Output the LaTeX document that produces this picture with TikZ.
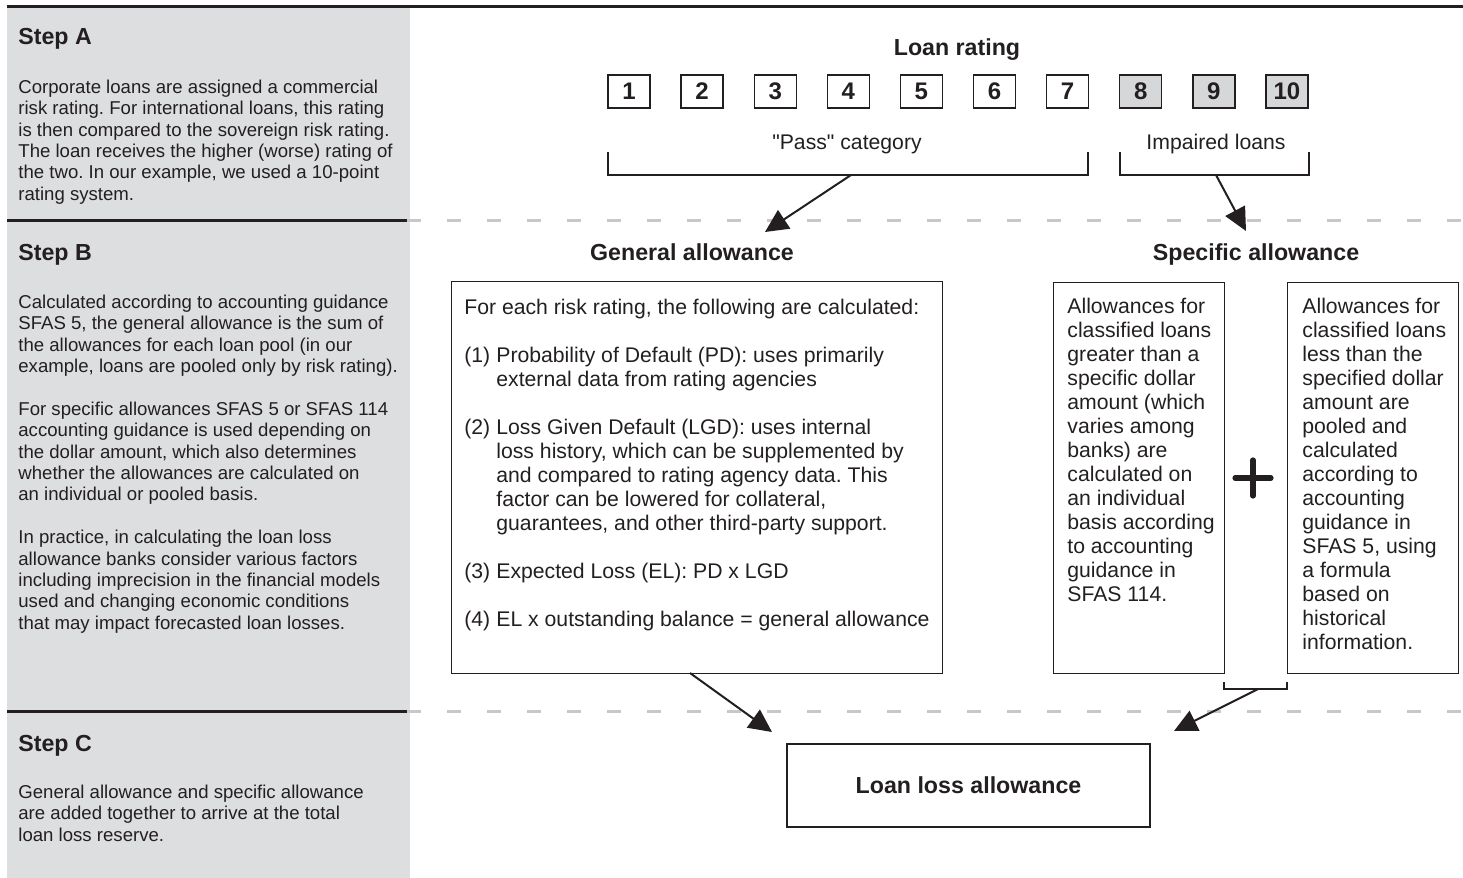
\documentclass[tikz,border=0pt]{standalone}
\usepackage{fontspec}
\setmainfont{Liberation Sans}
\newfontfamily\straightfont{Liberation Sans}[Ligatures=TeXOff]
\usetikzlibrary{arrows.meta}
\frenchspacing
\definecolor{panelgrey}{RGB}{221,222,224}
\definecolor{boxgrey}{RGB}{214,215,217}
\definecolor{dashgrey}{RGB}{200,200,200}
\definecolor{ink}{RGB}{35,31,32}
\tikzset{
  body/.style={font=\fontsize{9.3}{10.7}\selectfont, text=ink, inner sep=0pt, align=left, anchor=north west},
  boxtext/.style={font=\fontsize{10.6}{12}\selectfont, text=ink, inner sep=0pt, align=left, anchor=north west},
  groupname/.style={font=\fontsize{10.6}{12}\selectfont, text=ink, inner sep=0pt, anchor=base},
  heading/.style={font=\bfseries\fontsize{11.6}{13}\selectfont, text=ink, inner sep=0pt},
  ratebox/.style={draw=ink, line width=0.7pt, minimum width=21pt, minimum height=16.5pt, inner sep=0pt, font=\bfseries\fontsize{12}{14}\selectfont, text=ink},
  impaired/.style={ratebox, fill=boxgrey},
  textbox/.style={draw=ink, line width=0.7pt, inner sep=0pt},
  rule/.style={ink, line width=1.5pt},
  dashrule/.style={dashgrey, line width=1.5pt, dash pattern=on 7pt off 13pt},
  arrow/.style={ink, line width=1pt, -{Triangle[length=11.5pt,width=11pt]}},
  bracket/.style={ink, line width=0.7pt},
}
\begin{document}
\begin{tikzpicture}[x=0.5pt,y=-0.5pt]
\useasboundingbox (0,0) rectangle (1463,878);
% left panel and rules
\fill[panelgrey] (7,6) rectangle (410,878);
\draw[rule] (7,6) -- (1463,6);
\draw[rule] (7,220) -- (410,220);
\draw[rule] (7,711) -- (410,711);
\draw[dashrule] (407,220) -- (1463,220);
\draw[dashrule] (407,711) -- (1463,711);

% step texts
\node[heading, anchor=base west] (stepA) at (18,45) {Step A};
\node[body] (textA) at (18,79.4) {Corporate loans are assigned a commercial\\
risk rating. For international loans, this rating\\
is then compared to the sovereign risk rating.\\
The loan receives the higher (worse) rating of\\
the two. In our example, we used a 10-point\\
rating system.};
\node[heading, anchor=base west] (stepB) at (18,260) {Step B};
\node[body] (textB) at (18,294.4) {Calculated according to accounting guidance\\
SFAS 5, the general allowance is the sum of\\
the allowances for each loan pool (in our\\
example, loans are pooled only by risk rating).\\[10.7pt]
For specific allowances SFAS 5 or SFAS 114\\
accounting guidance is used depending on\\
the dollar amount, which also determines\\
whether the allowances are calculated on\\
an individual or pooled basis.\\[10.7pt]
In practice, in calculating the loan loss\\
allowance banks consider various factors\\
including imprecision in the financial models\\
used and changing economic conditions\\
that may impact forecasted loan losses.};
\node[heading, anchor=base west] (stepC) at (18,751) {Step C};
\node[body] (textC) at (18,784.4) {General allowance and specific allowance\\
are added together to arrive at the total\\
loan loss reserve.};

% loan rating
\node[heading, anchor=base] (rating) at (957,55) {Loan rating};
\foreach \i in {1,...,7}
  \node[ratebox] (r\i) at ({629+73.1*(\i-1)},91.5) {\i};
\foreach \i in {8,9,10}
  \node[impaired] (r\i) at ({629+73.1*(\i-1)},91.5) {\i};
\node[groupname] (pass) at (847,149) {{\straightfont "Pass"} category};
\node[groupname] (impair) at (1216,149) {Impaired loans};
\draw[bracket] (608,152) -- (608,175) -- (1088,175) -- (1088,152);
\draw[bracket] (1120,152) -- (1120,175) -- (1309,175) -- (1309,152);
\coordinate (passmid) at (851,175);
\coordinate (impmid) at (1216,175);
\coordinate (gentip) at (765,232);
\coordinate (spectip) at (1246,231);
\draw[arrow] (passmid) -- (gentip);
\draw[arrow] (impmid) -- (spectip);

% general allowance
\node[heading, anchor=base] (general) at (692,260) {General allowance};
\node[textbox, anchor=north west, minimum width=245.5pt, minimum height=196pt] (genbox) at (451,281) {};
\node[boxtext] (gentext) at (464,298.5) {For each risk rating, the following are calculated:\\[12pt]
\makebox[16pt][l]{(1)}Probability of Default (PD): uses primarily\\
\hspace*{16pt}external data from rating agencies\\[12pt]
\makebox[16pt][l]{(2)}Loss Given Default (LGD): uses internal\\
\hspace*{16pt}loss history, which can be supplemented by\\
\hspace*{16pt}and compared to rating agency data. This\\
\hspace*{16pt}factor can be lowered for collateral,\\
\hspace*{16pt}guarantees, and other third-party support.\\[12pt]
\makebox[16pt][l]{(3)}Expected Loss (EL): PD x LGD\\[12pt]
\makebox[16pt][l]{(4)}EL x outstanding balance = general allowance};

% specific allowance
\node[heading, anchor=base] (specific) at (1256,260) {Specific allowance};
\node[textbox, anchor=north west, minimum width=85.5pt, minimum height=195.5pt] (bigloans) at (1053,282) {};
\node[textbox, anchor=north west, minimum width=85.5pt, minimum height=195.5pt] (smallloans) at (1287,282) {};
\node[boxtext] (bigtext) at (1067,297.5) {Allowances for\\
classified loans\\
greater than a\\
specific dollar\\
amount (which\\
varies among\\
banks) are\\
calculated on\\
an individual\\
basis according\\
to accounting\\
guidance in\\
SFAS 114.};
\node[boxtext] (smalltext) at (1302,297.5) {Allowances for\\
classified loans\\
less than the\\
specified dollar\\
amount are\\
pooled and\\
calculated\\
according to\\
accounting\\
guidance in\\
SFAS 5, using\\
a formula\\
based on\\
historical\\
information.};
\draw[ink, line width=2.6pt, line cap=round] (1235,478) -- (1271,478) (1253,460) -- (1253,496);
\draw[ink, line width=1pt] (1224,682) -- (1224,689) -- (1287,689) -- (1287,682);
\coordinate (specmid) at (1258,689);
\coordinate (genbot) at (690,673);

% loan loss allowance
\node[textbox, heading, minimum width=181.5pt, minimum height=41.5pt] (total) at (968.5,785.5) {Loan loss allowance};
\coordinate (totalleft) at (772,732);
\coordinate (totalright) at (1174,731);
\draw[arrow] (genbot) -- (totalleft);
\draw[arrow] (specmid) -- (totalright);
\end{tikzpicture}
\end{document}
